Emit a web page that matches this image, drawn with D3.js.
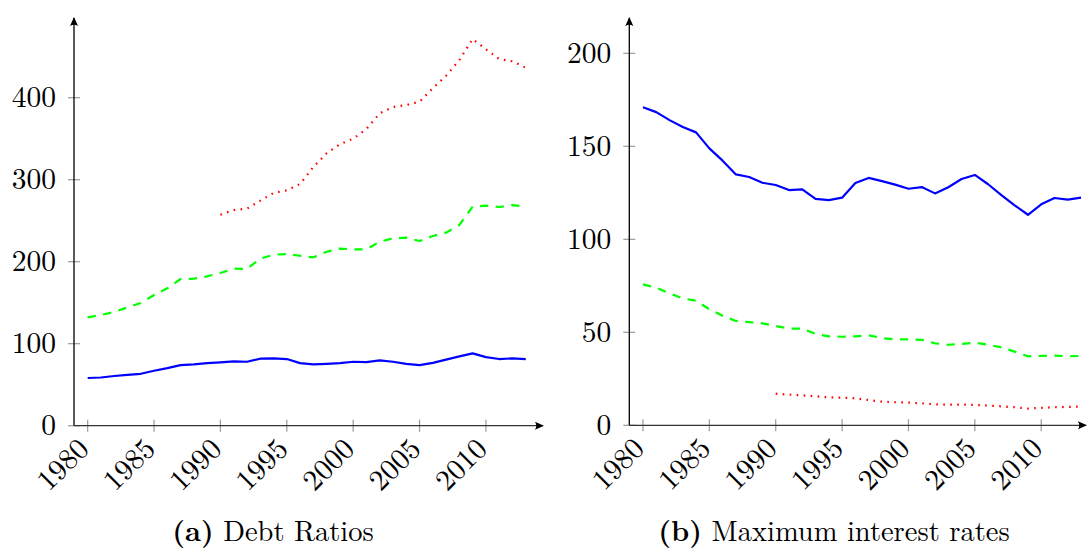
<!DOCTYPE html>
<html><head><meta charset="utf-8">
<script src="https://cdn.jsdelivr.net/npm/d3@7"></script>
<style>
html,body{margin:0;padding:0;background:#fff;}
svg{display:block;}
</style></head>
<body>
<svg id="c" width="1088" height="549"></svg>
<script>
const years = d3.range(1980, 2014);
const yearsRed = d3.range(1990, 2014);

// (a) Debt Ratios
const debtBlue = [58.2,58.8,60.6,62,63.3,67,70.2,73.9,74.7,76.3,77.2,78.4,78,81.7,82.1,81.3,76.3,74.7,75.5,76.3,78,77.6,79.6,78,75.5,73.9,76.7,80.5,84.5,88.2,83.7,81.3,82.1,81.3];
const debtGreen = [132.2,135,138.7,144.3,149.6,159.4,167.5,178.9,179.3,182.2,186.2,191.5,191.1,203.7,208.5,209.4,207.3,205.3,212.2,215.9,215.1,215.1,224.4,228.5,229.3,225.2,231.3,235.4,244.8,267.1,268.3,266.7,269.1,267.1];
const debtRed = [257.3,263,264.6,274.4,283.8,287,294.8,315.5,332.2,343.2,350,361.8,381,388.7,391.1,395.1,411.5,426.8,446,471.6,459,447.2,444.4,436.6];

// (b) Maximum interest rates
const rateBlue = [171,168.4,164.1,160.4,157.5,148.9,142.3,134.9,133.5,130.4,129.2,126.5,126.9,121.7,121.1,122.4,130.3,133,131.3,129.4,127.2,128.1,124.7,128,132.4,134.6,129.6,123.8,118.3,113.2,118.8,122.2,121.3,122.4];
const rateGreen = [75.8,74,71,68.2,67,62.4,58.9,56.1,55.5,54.8,53.4,52,52,49.2,47.8,47.6,47.8,48.4,46.9,46.2,46.2,45.9,44.1,43.3,43.7,44.4,43.3,41.9,39.6,37.1,37.3,37.5,37.1,37.3];
const rateRed = [17,16.5,16.1,15.6,15,14.9,14.5,13.6,12.7,12.4,12.2,11.8,11.3,11.1,11.1,11,10.6,10.2,9.7,9,9.4,9.7,9.9,10.1];

const xTicks = [1980,1985,1990,1995,2000,2005,2010];
const yTicksA = [0,100,200,300,400];
const yTicksB = [0,50,100,150,200];

const FONT = "Latin Modern Roman";

const svg = d3.select("#c");
const defs = svg.append("defs");
defs.append("marker").attr("id","arr").attr("viewBox","0 0 10 10").attr("refX",9).attr("refY",5)
  .attr("markerWidth",9).attr("markerHeight",9).attr("markerUnits","userSpaceOnUse").attr("orient","auto")
  .append("path").attr("d","M0,0.5 Q3,5 0,9.5 L10,5 Z").attr("fill","#000");

function panel(o){
  const g = svg.append("g");
  const x = d3.scaleLinear().domain([1978.97, 2014.3]).range([o.left, o.left + 469]);
  const y = d3.scaleLinear().domain([0, o.ymax]).range([o.bottom, 18]);
  const xEnd = Math.min(x(2014.3), 1086);

  g.selectAll(".xt").data(xTicks).join("line")
    .attr("x1", d=>x(d)).attr("x2", d=>x(d)).attr("y1", o.bottom-6).attr("y2", o.bottom+6)
    .attr("stroke","#9a9a9a").attr("stroke-width",1.2);
  g.selectAll(".yt").data(o.yTicks).join("line")
    .attr("x1", o.left-6).attr("x2", o.left+6).attr("y1", d=>y(d)).attr("y2", d=>y(d))
    .attr("stroke","#9a9a9a").attr("stroke-width",1.2);

  g.append("line").attr("x1",o.left).attr("x2",o.left).attr("y1",o.bottom).attr("y2",y.range()[1])
    .attr("stroke","#000").attr("stroke-width",1.3).attr("marker-end","url(#arr)");
  g.append("line").attr("x1",o.left).attr("x2",xEnd).attr("y1",o.bottom).attr("y2",o.bottom)
    .attr("stroke","#333").attr("stroke-width",1.3).attr("marker-end","url(#arr)");

  g.selectAll(".yl").data(o.yTicks).join("text")
    .attr("x", o.left-18).attr("y", d=>y(d)).attr("dy","0.33em")
    .attr("font-family", FONT).attr("fill","#000")
    .attr("text-anchor","end").attr("font-size",29.5).text(d=>d);
  g.selectAll(".xl").data(xTicks).join("text")
    .attr("transform", d=>`translate(${x(d)-11},${o.bottom+11}) rotate(-45)`)
    .attr("font-family", FONT).attr("fill","#000")
    .attr("dy","0.66em").attr("text-anchor","end").attr("font-size",29.5).text(d=>d);

  const line = d3.line().x(d=>x(d[0])).y(d=>y(d[1]));
  const series = [
    {xs: years, v: o.blue, c:"#0000ff", dash:null},
    {xs: years, v: o.green, c:"#00ff00", dash:"8.3,7.4"},
    {xs: yearsRed, v: o.red, c:"#ff0000", dash:"1.6,5.4"}
  ];
  series.forEach(s=>{
    g.append("path").datum(s.xs.map((yr,i)=>[yr, s.v[i]]))
      .attr("d", line).attr("fill","none").attr("stroke", s.c).attr("stroke-width",2.2)
      .attr("stroke-linejoin","round")
      .attr("stroke-dasharray", s.dash);
  });

  const t = g.append("text").attr("x", o.capX).attr("y", 541).attr("text-anchor","middle")
    .attr("font-family", FONT).attr("fill","#000").attr("font-size",28.5);
  t.append("tspan").attr("font-weight","bold").attr("font-family", FONT).text(o.capA);
  t.append("tspan").attr("font-family", FONT).text(" " + o.capB);
}

panel({left:74, bottom:425.7, ymax:497.2, yTicks:yTicksA, blue:debtBlue, green:debtGreen, red:debtRed, capX:273, capA:"(a)", capB:"Debt Ratios"});
panel({left:629.3, bottom:425.3, ymax:219, yTicks:yTicksB, blue:rateBlue, green:rateGreen, red:rateRed, capX:834, capA:"(b)", capB:"Maximum interest rates"});
</script>
</body></html>
